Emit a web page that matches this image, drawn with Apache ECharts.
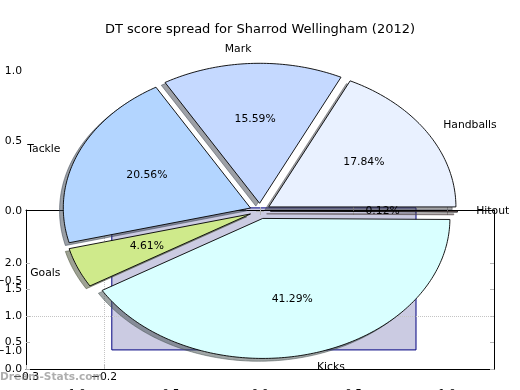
<!DOCTYPE html>
<html>
<head>
<meta charset="utf-8">
<script src="https://cdn.jsdelivr.net/npm/echarts@6/dist/echarts.min.js"></script>
<style>
html,body{margin:0;padding:0;background:#fff;}
#chart{width:520px;height:390px;}
</style>
</head>
<body>
<div id="chart"></div>
<script>
// ---- data ----
const categories = ['Handballs', 'Mark', 'Tackle', 'Goals', 'Kicks', 'Hitout'];
const values = [17.84, 15.59, 20.56, 4.61, 41.29, 0.12];
const pieTicks = [-1, -0.5, 0, 0.5, 1];
const barYTicks = [0, 0.5, 1, 1.5, 2];
const barXTicks = [-0.3, -0.2];
const fillX = [-0.19, 0.2];
const fillY = [0.36, 3.04];
const gridYValues = [1];
const gridXValues = [-0.2];
const titleText = 'DT score spread for Sharrod Wellingham (2012)';
const watermark = 'Dream-Stats.com';

// ---- styles ----
const colors = ['#e9f1ff', '#c5d9ff', '#b3d5ff', '#cfea8b', '#d9ffff', '#ffd8d8'];
const EXPLODE = 0.055;
const FONT = 'DejaVu Sans';
const TICK_COLOR = '#b4b4b4';

const total = values.reduce((a, b) => a + b, 0);
const cum = [0];
values.forEach(v => cum.push(cum[cum.length - 1] + v));
const fmt = v => (v < 0 ? '\u2212' : '') + Math.abs(v).toFixed(1);

function shadowColor(hex) {
  const r = parseInt(hex.slice(1, 3), 16), g = parseInt(hex.slice(3, 5), 16), b = parseInt(hex.slice(5, 7), 16);
  return 'rgba(' + Math.round(r * 0.3) + ',' + Math.round(g * 0.3) + ',' + Math.round(b * 0.3) + ',0.5)';
}

function wedgeGeom(i) {
  const t1 = cum[i] / total * 2 * Math.PI;
  const t2 = cum[i + 1] / total * 2 * Math.PI;
  const tm = (t1 + t2) / 2;
  const cx = EXPLODE * Math.cos(tm), cy = EXPLODE * Math.sin(tm);
  const pts = [[cx, cy]];
  const n = Math.max(2, Math.ceil((t2 - t1) / (Math.PI / 180)));
  for (let k = 0; k <= n; k++) {
    const t = t1 + (t2 - t1) * k / n;
    pts.push([cx + Math.cos(t), cy + Math.sin(t)]);
  }
  return { pts, tm, cx, cy };
}

const axisLabelStyle = { fontFamily: FONT, fontSize: 10.8, color: '#000' };
const tickStyle = { lineStyle: { color: TICK_COLOR, width: 1 } };

const chart = echarts.init(document.getElementById('chart'), null, { renderer: 'canvas' });
chart.setOption({
  animation: false,
  backgroundColor: '#fff',
  title: {
    text: titleText, left: 'center', top: 18,
    textStyle: { fontFamily: FONT, fontSize: 13, fontWeight: 'normal', color: '#000' }
  },
  grid: [
    { left: 26, right: 26, top: 36, bottom: 4, containLabel: false, outerBoundsMode: 'none' },
    { left: 26, right: 26, top: 210, bottom: 21, containLabel: false, outerBoundsMode: 'none' }
  ],
  xAxis: [
    { gridIndex: 0, type: 'value', position: 'bottom', min: -1.25, max: 1.25, z: 3,
      axisLine: { show: false }, splitLine: { show: false },
      axisTick: Object.assign({ show: true, inside: true, length: 4, customValues: pieTicks }, tickStyle),
      axisLabel: Object.assign({ show: true, margin: 3, customValues: pieTicks, formatter: fmt, verticalAlign: 'top' }, axisLabelStyle) },
    { gridIndex: 0, type: 'value', position: 'top', min: -1.25, max: 1.25, z: 3,
      axisLine: { show: false }, splitLine: { show: false }, axisLabel: { show: false },
      axisTick: Object.assign({ show: true, inside: true, length: 4, customValues: pieTicks }, tickStyle) },
    { gridIndex: 1, type: 'value', position: 'bottom', min: -0.3, max: 0.3, z: 3,
      axisLine: { show: true, onZero: false, lineStyle: { color: '#000', width: 1 } }, splitLine: { show: false },
      axisTick: Object.assign({ show: true, inside: true, length: 4, customValues: barXTicks }, tickStyle),
      axisLabel: Object.assign({ show: true, margin: 3, customValues: barXTicks, formatter: fmt }, axisLabelStyle) },
    { gridIndex: 1, type: 'value', position: 'top', min: -0.3, max: 0.3, z: 3,
      axisLine: { show: true, onZero: false, lineStyle: { color: '#000', width: 1 } }, splitLine: { show: false },
      axisTick: { show: false }, axisLabel: { show: false } }
  ],
  yAxis: [
    { gridIndex: 0, type: 'value', position: 'left', min: -1.25, max: 1.25, z: 3,
      axisLine: { show: false }, splitLine: { show: false },
      axisTick: Object.assign({ show: true, inside: true, length: 4, customValues: pieTicks }, tickStyle),
      axisLabel: Object.assign({ show: true, margin: 4, customValues: pieTicks, formatter: fmt }, axisLabelStyle) },
    { gridIndex: 0, type: 'value', position: 'right', min: -1.25, max: 1.25, z: 3,
      axisLine: { show: false }, splitLine: { show: false }, axisLabel: { show: false },
      axisTick: Object.assign({ show: true, inside: true, length: 4, customValues: pieTicks }, tickStyle) },
    { gridIndex: 1, type: 'value', position: 'left', min: 0, max: 3, z: 3,
      axisLine: { show: true, onZero: false, lineStyle: { color: '#000', width: 1 } }, splitLine: { show: false },
      axisTick: Object.assign({ show: true, inside: true, length: 4, customValues: barYTicks }, tickStyle),
      axisLabel: Object.assign({ show: true, margin: 4, customValues: barYTicks, formatter: fmt }, axisLabelStyle) },
    { gridIndex: 1, type: 'value', position: 'right', min: 0, max: 3, z: 3,
      axisLine: { show: true, onZero: false, lineStyle: { color: '#000', width: 1 } }, splitLine: { show: false },
      axisTick: Object.assign({ show: true, inside: true, length: 4, customValues: barYTicks }, tickStyle),
      axisLabel: { show: false } }
  ],
  series: [
    // filled band in the lower axes
    { type: 'custom', xAxisIndex: 2, yAxisIndex: 2, z: 2, clip: false, silent: true,
      data: [[fillX[0], fillY[0], fillX[1], fillY[1]]],
      renderItem: (params, api) => {
        const p0 = api.coord([api.value(0), api.value(1)]);
        const p1 = api.coord([api.value(2), api.value(3)]);
        return { type: 'rect',
          shape: { x: Math.min(p0[0], p1[0]), y: Math.min(p0[1], p1[1]), width: Math.abs(p1[0] - p0[0]), height: Math.abs(p1[1] - p0[1]) },
          style: { fill: '#cbcbe2', stroke: '#000080', lineWidth: 1 } };
      } },
    // dotted grid lines
    { type: 'line', xAxisIndex: 2, yAxisIndex: 2, z: 2, data: [], silent: true,
      markLine: { silent: true, symbol: 'none', label: { show: false }, animation: false,
        lineStyle: { type: 'dotted', color: '#c4c4c4', width: 1 },
        data: gridYValues.map(v => ({ yAxis: v })).concat(gridXValues.map(v => ({ xAxis: v }))) } },
    // pie wedges with shadows
    { type: 'custom', xAxisIndex: 0, yAxisIndex: 0, z: 5, clip: false, silent: true,
      data: values.map((v, i) => [i, v]),
      renderItem: (params, api) => {
        const i = params.dataIndex;
        const g = wedgeGeom(i);
        const sh = g.pts.map(p => api.coord([p[0] - 0.02, p[1] - 0.02]));
        const px = g.pts.map(p => api.coord(p));
        const sc = shadowColor(colors[i]);
        return { type: 'group', children: [
          { type: 'polygon', shape: { points: sh }, style: { fill: sc, stroke: sc, lineWidth: 1 } },
          { type: 'polygon', shape: { points: px }, style: { fill: colors[i], stroke: '#000', lineWidth: 0.9 } }
        ] };
      } },
    // labels and percentages
    { type: 'custom', xAxisIndex: 0, yAxisIndex: 0, z: 10, clip: false, silent: true,
      data: values.map((v, i) => [i, v]),
      renderItem: (params, api) => {
        const i = params.dataIndex;
        const g = wedgeGeom(i);
        const c = Math.cos(g.tm), s = Math.sin(g.tm);
        const lx = g.cx + 1.1 * c, ly = g.cy + 1.1 * s;
        const ax = g.cx + 0.6 * c, ay = g.cy + 0.6 * s;
        const lp = api.coord([lx, ly]);
        const ap = api.coord([ax, ay]);
        return { type: 'group', children: [
          { type: 'text', x: lp[0], y: lp[1], style: { text: categories[i], fill: '#000', font: '10.8px "DejaVu Sans"', align: lx > 0 ? 'left' : 'right', verticalAlign: 'middle' } },
          { type: 'text', x: ap[0], y: ap[1], style: { text: (values[i] / total * 100).toFixed(2) + '%', fill: '#000', font: '10.8px "DejaVu Sans"', align: 'center', verticalAlign: 'middle' } }
        ] };
      } }
  ],
  graphic: [
    { type: 'text', left: 0, top: 372, z: 100, silent: true,
      style: { text: watermark, fill: 'rgba(120,120,120,0.6)', font: 'bold 10.6px "DejaVu Sans"' } }
  ]
});
</script>
</body>
</html>
